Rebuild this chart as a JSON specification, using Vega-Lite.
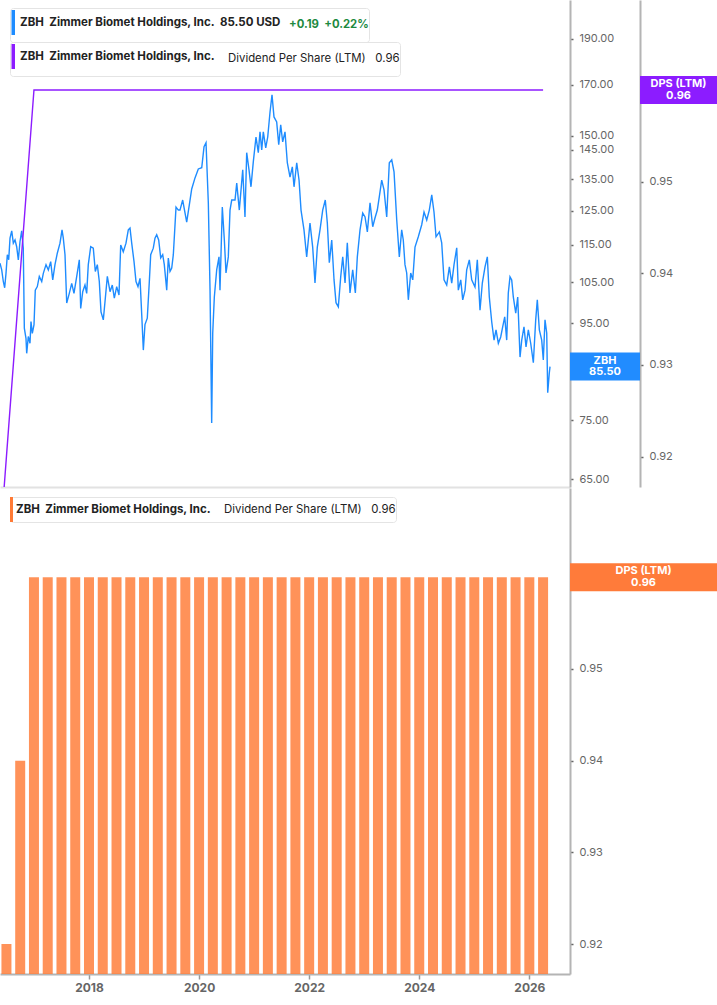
{
  "$schema": "https://vega.github.io/schema/vega-lite/v6.json",
  "background": "white",
  "padding": 0,
  "spacing": 1,
  "config": {
    "view": {"stroke": null},
    "font": "Inter",
    "axis": {"grid": false, "labelFont": "Inter", "titleFont": "Inter"},
    "legend": {
      "orient": "none",
      "padding": 0,
      "fillColor": "#ffffff",
      "strokeColor": "#e4e4e4",
      "cornerRadius": 3,
      "labelFont": "Inter",
      "labelFontSize": 11.5,
      "labelFontWeight": "bold",
      "labelColor": "#222222",
      "labelLimit": 0,
      "labelOffset": -19,
      "symbolSize": 625,
      "titleOrient": "right",
      "titleFont": "Inter",
      "titleFontSize": 11.4,
      "titlePadding": 8,
      "titleLimit": 0,
      "titleAnchor": "middle",
      "titleBaseline": "middle"
    }
  },
  "datasets": {
    "price": [
      {"t": 2016.383, "close": 110.0}, {"t": 2016.414, "close": 108.2}, {"t": 2016.443, "close": 105.2},
      {"t": 2016.468, "close": 103.6}, {"t": 2016.492, "close": 107.3}, {"t": 2016.516, "close": 112.3},
      {"t": 2016.541, "close": 110.9}, {"t": 2016.565, "close": 116.9}, {"t": 2016.596, "close": 119.0},
      {"t": 2016.625, "close": 115.5}, {"t": 2016.656, "close": 116.4}, {"t": 2016.686, "close": 114.5},
      {"t": 2016.716, "close": 110.9}, {"t": 2016.746, "close": 115.9}, {"t": 2016.777, "close": 119.0},
      {"t": 2016.806, "close": 114.1}, {"t": 2016.825, "close": 93.9}, {"t": 2016.855, "close": 91.6},
      {"t": 2016.868, "close": 88.3}, {"t": 2016.897, "close": 92.0}, {"t": 2016.928, "close": 90.5},
      {"t": 2016.946, "close": 95.4}, {"t": 2016.97, "close": 92.7}, {"t": 2017.001, "close": 94.7},
      {"t": 2017.024, "close": 103.0}, {"t": 2017.061, "close": 103.9}, {"t": 2017.097, "close": 106.5},
      {"t": 2017.141, "close": 105.2}, {"t": 2017.17, "close": 107.3}, {"t": 2017.219, "close": 109.6},
      {"t": 2017.261, "close": 108.2}, {"t": 2017.304, "close": 110.4}, {"t": 2017.341, "close": 105.6},
      {"t": 2017.382, "close": 109.6}, {"t": 2017.424, "close": 112.7}, {"t": 2017.473, "close": 115.5},
      {"t": 2017.51, "close": 119.3}, {"t": 2017.533, "close": 116.9}, {"t": 2017.564, "close": 112.3},
      {"t": 2017.595, "close": 99.8}, {"t": 2017.642, "close": 102.2}, {"t": 2017.686, "close": 104.7},
      {"t": 2017.727, "close": 102.2}, {"t": 2017.777, "close": 106.5}, {"t": 2017.824, "close": 110.9},
      {"t": 2017.849, "close": 98.5}, {"t": 2017.886, "close": 102.6}, {"t": 2017.927, "close": 104.3},
      {"t": 2017.958, "close": 102.2}, {"t": 2017.987, "close": 109.6}, {"t": 2018.031, "close": 114.5},
      {"t": 2018.078, "close": 114.1}, {"t": 2018.115, "close": 107.8}, {"t": 2018.151, "close": 109.6},
      {"t": 2018.187, "close": 105.2}, {"t": 2018.218, "close": 97.7}, {"t": 2018.26, "close": 95.8},
      {"t": 2018.291, "close": 100.2}, {"t": 2018.333, "close": 106.5}, {"t": 2018.382, "close": 102.6},
      {"t": 2018.423, "close": 104.3}, {"t": 2018.46, "close": 101.0}, {"t": 2018.503, "close": 103.9},
      {"t": 2018.545, "close": 101.8}, {"t": 2018.576, "close": 115.0}, {"t": 2018.623, "close": 113.1},
      {"t": 2018.672, "close": 115.5}, {"t": 2018.714, "close": 119.3}, {"t": 2018.745, "close": 119.8},
      {"t": 2018.776, "close": 115.5}, {"t": 2018.818, "close": 110.4}, {"t": 2018.854, "close": 105.2},
      {"t": 2018.89, "close": 103.9}, {"t": 2018.927, "close": 106.0}, {"t": 2018.958, "close": 97.0},
      {"t": 2018.987, "close": 89.0}, {"t": 2019.017, "close": 94.7}, {"t": 2019.059, "close": 96.2},
      {"t": 2019.096, "close": 105.2}, {"t": 2019.121, "close": 112.3}, {"t": 2019.168, "close": 114.1},
      {"t": 2019.199, "close": 116.9}, {"t": 2019.23, "close": 117.9}, {"t": 2019.266, "close": 116.4},
      {"t": 2019.303, "close": 111.4}, {"t": 2019.339, "close": 112.3}, {"t": 2019.368, "close": 109.6},
      {"t": 2019.412, "close": 103.0}, {"t": 2019.441, "close": 111.4}, {"t": 2019.472, "close": 107.8},
      {"t": 2019.503, "close": 108.7}, {"t": 2019.532, "close": 112.3}, {"t": 2019.581, "close": 126.1},
      {"t": 2019.623, "close": 125.2}, {"t": 2019.653, "close": 125.2}, {"t": 2019.702, "close": 128.3},
      {"t": 2019.775, "close": 121.6}, {"t": 2019.822, "close": 126.7}, {"t": 2019.866, "close": 131.8},
      {"t": 2019.926, "close": 135.4}, {"t": 2019.986, "close": 138.4}, {"t": 2020.048, "close": 138.8},
      {"t": 2020.09, "close": 146.1}, {"t": 2020.126, "close": 147.5}, {"t": 2020.168, "close": 127.4},
      {"t": 2020.199, "close": 103.0}, {"t": 2020.229, "close": 74.5}, {"t": 2020.248, "close": 92.8},
      {"t": 2020.277, "close": 101.3}, {"t": 2020.32, "close": 108.2}, {"t": 2020.362, "close": 111.7},
      {"t": 2020.38, "close": 103.0}, {"t": 2020.422, "close": 126.1}, {"t": 2020.459, "close": 116.4},
      {"t": 2020.489, "close": 107.4}, {"t": 2020.531, "close": 111.7}, {"t": 2020.562, "close": 125.2},
      {"t": 2020.593, "close": 128.3}, {"t": 2020.653, "close": 128.3}, {"t": 2020.684, "close": 133.7},
      {"t": 2020.731, "close": 125.2}, {"t": 2020.793, "close": 138.1}, {"t": 2020.834, "close": 123.1},
      {"t": 2020.865, "close": 144.0}, {"t": 2020.907, "close": 138.1}, {"t": 2020.943, "close": 132.5},
      {"t": 2020.985, "close": 140.8}, {"t": 2021.034, "close": 149.6}, {"t": 2021.076, "close": 144.0},
      {"t": 2021.107, "close": 151.5}, {"t": 2021.138, "close": 145.0}, {"t": 2021.167, "close": 151.5},
      {"t": 2021.211, "close": 145.7}, {"t": 2021.247, "close": 149.6}, {"t": 2021.289, "close": 159.0},
      {"t": 2021.325, "close": 165.8}, {"t": 2021.361, "close": 157.1}, {"t": 2021.41, "close": 155.2},
      {"t": 2021.447, "close": 146.8}, {"t": 2021.483, "close": 154.1}, {"t": 2021.519, "close": 147.8},
      {"t": 2021.561, "close": 151.5}, {"t": 2021.603, "close": 140.5}, {"t": 2021.652, "close": 135.7},
      {"t": 2021.694, "close": 139.1}, {"t": 2021.725, "close": 132.5}, {"t": 2021.774, "close": 140.5},
      {"t": 2021.816, "close": 134.7}, {"t": 2021.852, "close": 125.2}, {"t": 2021.906, "close": 119.3},
      {"t": 2021.955, "close": 111.7}, {"t": 2022.015, "close": 121.3}, {"t": 2022.064, "close": 114.4},
      {"t": 2022.106, "close": 104.8}, {"t": 2022.148, "close": 114.4}, {"t": 2022.197, "close": 119.3},
      {"t": 2022.246, "close": 125.2}, {"t": 2022.293, "close": 128.3}, {"t": 2022.33, "close": 121.3},
      {"t": 2022.366, "close": 110.1}, {"t": 2022.41, "close": 116.4}, {"t": 2022.452, "close": 105.6},
      {"t": 2022.488, "close": 99.9}, {"t": 2022.53, "close": 98.9}, {"t": 2022.573, "close": 106.4},
      {"t": 2022.61, "close": 111.7}, {"t": 2022.652, "close": 104.8}, {"t": 2022.693, "close": 115.6},
      {"t": 2022.742, "close": 102.3}, {"t": 2022.791, "close": 108.2}, {"t": 2022.839, "close": 102.3},
      {"t": 2022.875, "close": 111.7}, {"t": 2022.924, "close": 119.3}, {"t": 2022.973, "close": 124.3},
      {"t": 2023.015, "close": 123.1}, {"t": 2023.057, "close": 118.7}, {"t": 2023.106, "close": 127.4},
      {"t": 2023.155, "close": 120.2}, {"t": 2023.196, "close": 122.8}, {"t": 2023.238, "close": 125.2},
      {"t": 2023.274, "close": 129.3}, {"t": 2023.318, "close": 134.7}, {"t": 2023.36, "close": 131.5},
      {"t": 2023.409, "close": 123.1}, {"t": 2023.456, "close": 140.5}, {"t": 2023.5, "close": 141.5},
      {"t": 2023.542, "close": 137.4}, {"t": 2023.591, "close": 122.2}, {"t": 2023.638, "close": 111.7},
      {"t": 2023.681, "close": 119.3}, {"t": 2023.71, "close": 116.4}, {"t": 2023.741, "close": 109.6},
      {"t": 2023.772, "close": 107.4}, {"t": 2023.802, "close": 100.6}, {"t": 2023.845, "close": 107.4},
      {"t": 2023.882, "close": 105.6}, {"t": 2023.923, "close": 114.4}, {"t": 2023.983, "close": 117.3},
      {"t": 2024.045, "close": 120.8}, {"t": 2024.087, "close": 124.6}, {"t": 2024.136, "close": 122.2},
      {"t": 2024.183, "close": 125.2}, {"t": 2024.227, "close": 129.9}, {"t": 2024.268, "close": 124.6},
      {"t": 2024.305, "close": 117.3}, {"t": 2024.365, "close": 118.7}, {"t": 2024.408, "close": 115.6},
      {"t": 2024.45, "close": 105.6}, {"t": 2024.499, "close": 104.3}, {"t": 2024.547, "close": 109.0},
      {"t": 2024.59, "close": 104.8}, {"t": 2024.632, "close": 109.6}, {"t": 2024.681, "close": 114.2},
      {"t": 2024.71, "close": 103.0}, {"t": 2024.754, "close": 105.6}, {"t": 2024.79, "close": 100.6},
      {"t": 2024.832, "close": 103.0}, {"t": 2024.862, "close": 108.2}, {"t": 2024.91, "close": 110.9},
      {"t": 2024.953, "close": 105.6}, {"t": 2025.013, "close": 103.8}, {"t": 2025.055, "close": 110.9},
      {"t": 2025.104, "close": 98.1}, {"t": 2025.146, "close": 104.8}, {"t": 2025.195, "close": 109.0},
      {"t": 2025.237, "close": 111.7}, {"t": 2025.273, "close": 101.3}, {"t": 2025.317, "close": 95.3},
      {"t": 2025.359, "close": 91.2}, {"t": 2025.395, "close": 93.5}, {"t": 2025.437, "close": 90.5},
      {"t": 2025.48, "close": 91.9}, {"t": 2025.516, "close": 94.2}, {"t": 2025.553, "close": 96.5},
      {"t": 2025.589, "close": 91.2}, {"t": 2025.618, "close": 102.3}, {"t": 2025.649, "close": 106.4},
      {"t": 2025.68, "close": 105.6}, {"t": 2025.709, "close": 101.3}, {"t": 2025.753, "close": 97.4},
      {"t": 2025.789, "close": 101.3}, {"t": 2025.831, "close": 87.5}, {"t": 2025.862, "close": 91.2},
      {"t": 2025.903, "close": 94.2}, {"t": 2025.94, "close": 89.7}, {"t": 2025.982, "close": 93.5},
      {"t": 2026.025, "close": 90.5}, {"t": 2026.073, "close": 86.3}, {"t": 2026.116, "close": 95.8},
      {"t": 2026.145, "close": 100.6}, {"t": 2026.182, "close": 93.5}, {"t": 2026.225, "close": 91.2},
      {"t": 2026.254, "close": 86.9}, {"t": 2026.285, "close": 95.8}, {"t": 2026.316, "close": 92.8},
      {"t": 2026.334, "close": 80.2}, {"t": 2026.363, "close": 84.2}, {"t": 2026.376, "close": 85.5}
    ],
    "dps": [
      {"t": 2016.25, "dps": 0.90}, {"t": 2016.5, "dps": 0.92}, {"t": 2016.75, "dps": 0.94},
      {"t": 2017.0, "dps": 0.96}, {"t": 2017.25, "dps": 0.96}, {"t": 2017.5, "dps": 0.96}, {"t": 2017.75, "dps": 0.96},
      {"t": 2018.0, "dps": 0.96}, {"t": 2018.25, "dps": 0.96}, {"t": 2018.5, "dps": 0.96}, {"t": 2018.75, "dps": 0.96},
      {"t": 2019.0, "dps": 0.96}, {"t": 2019.25, "dps": 0.96}, {"t": 2019.5, "dps": 0.96}, {"t": 2019.75, "dps": 0.96},
      {"t": 2020.0, "dps": 0.96}, {"t": 2020.25, "dps": 0.96}, {"t": 2020.5, "dps": 0.96}, {"t": 2020.75, "dps": 0.96},
      {"t": 2021.0, "dps": 0.96}, {"t": 2021.25, "dps": 0.96}, {"t": 2021.5, "dps": 0.96}, {"t": 2021.75, "dps": 0.96},
      {"t": 2022.0, "dps": 0.96}, {"t": 2022.25, "dps": 0.96}, {"t": 2022.5, "dps": 0.96}, {"t": 2022.75, "dps": 0.96},
      {"t": 2023.0, "dps": 0.96}, {"t": 2023.25, "dps": 0.96}, {"t": 2023.5, "dps": 0.96}, {"t": 2023.75, "dps": 0.96},
      {"t": 2024.0, "dps": 0.96}, {"t": 2024.25, "dps": 0.96}, {"t": 2024.5, "dps": 0.96}, {"t": 2024.75, "dps": 0.96},
      {"t": 2025.0, "dps": 0.96}, {"t": 2025.25, "dps": 0.96}, {"t": 2025.5, "dps": 0.96}, {"t": 2025.75, "dps": 0.96},
      {"t": 2026.0, "dps": 0.96}, {"t": 2026.25, "dps": 0.96}
    ],
    "last_price": [{"close": 85.5}],
    "last_dps": [{"dps": 0.96}]
  },
  "vconcat": [
    {
      "width": 570,
      "height": 487,
      "layer": [
        {
          "layer": [
            {
              "data": {"name": "price"},
              "mark": {"type": "line", "strokeWidth": 1.4, "clip": true},
              "encoding": {
                "x": {"field": "t", "type": "quantitative", "scale": {"domain": [2016.383, 2026.739], "nice": false, "zero": false, "padding": 0},
                      "axis": {"orient": "bottom", "labels": false, "ticks": false, "title": null, "domainColor": "#e2e2e2", "domainWidth": 2}},
                "y": {"field": "close", "type": "quantitative", "scale": {"type": "log", "domain": [63.75, 208.9], "nice": false, "padding": 0},
                      "axis": {"orient": "right", "values": [65, 75, 85, 95, 105, 115, 125, 135, 145, 150, 170, 190], "format": ".2f", "title": null,
                               "domainColor": "#b4b4b4", "domainWidth": 2, "tickColor": "#666666", "tickSize": 3, "tickWidth": 1.5,
                               "labelColor": "#666666", "labelFontSize": 11, "labelPadding": 6, "labelOverlap": false}},
                "color": {"datum": "ZBH\u00a0\u00a0Zimmer Biomet Holdings, Inc.\u00a0\u00a085.50 USD", "type": "nominal",
                          "scale": {"range": ["#1e8cff"]},
                          "legend": {"title": "+0.19\u00a0\u00a0+0.22%\u00a0\u00a0", "titleColor": "#1d8a3f", "titleFontWeight": "bold", "titleFontSize": 11.3,
                                     "legendX": 10, "legendY": 8, "symbolType": "M-0.9,-1L-0.9,1", "symbolStrokeWidth": 3.5}}
              }
            },
            {
              "data": {"name": "last_price"},
              "mark": {"type": "bar", "orient": "horizontal", "height": 28, "color": "#218cff"},
              "encoding": {
                "x": {"datum": 2026.739, "type": "quantitative", "scale": {"domain": [2016.383, 2026.739], "nice": false, "zero": false, "padding": 0},
                      "axis": {"orient": "bottom", "labels": false, "ticks": false, "title": null, "domainColor": "#e2e2e2", "domainWidth": 2}},
                "x2": {"datum": 2028.011},
                "y": {"field": "close", "type": "quantitative", "scale": {"type": "log", "domain": [63.75, 208.9], "nice": false, "padding": 0}}
              }
            },
            {
              "data": {"name": "last_price"},
              "mark": {"type": "text", "color": "white", "font": "Inter", "fontWeight": "bold", "fontSize": 11, "lineHeight": 11.5, "align": "center", "baseline": "middle", "dy": -6},
              "encoding": {
                "x": {"datum": 2027.375, "type": "quantitative", "scale": {"domain": [2016.383, 2026.739], "nice": false, "zero": false, "padding": 0},
                      "axis": {"orient": "bottom", "labels": false, "ticks": false, "title": null, "domainColor": "#e2e2e2", "domainWidth": 2}},
                "y": {"field": "close", "type": "quantitative", "scale": {"type": "log", "domain": [63.75, 208.9], "nice": false, "padding": 0}},
                "text": {"value": ["ZBH", "85.50"]}
              }
            }
          ]
        },
        {
          "layer": [
            {
              "data": {"name": "dps"},
              "mark": {"type": "line", "strokeWidth": 1.4, "clip": true},
              "encoding": {
                "x": {"field": "t", "type": "quantitative", "scale": {"domain": [2016.383, 2026.739], "nice": false, "zero": false, "padding": 0},
                      "axis": {"orient": "bottom", "labels": false, "ticks": false, "title": null, "domainColor": "#e2e2e2", "domainWidth": 2}},
                "y": {"field": "dps", "type": "quantitative", "scale": {"domain": [0.91669, 0.96982], "nice": false, "zero": false, "padding": 0},
                      "axis": {"orient": "right", "offset": 70, "values": [0.92, 0.93, 0.94, 0.95, 0.96], "format": ".2f", "title": null,
                               "domainColor": "#b4b4b4", "domainWidth": 2, "tickColor": "#666666", "tickSize": 3, "tickWidth": 1.5,
                               "labelColor": "#666666", "labelFontSize": 11, "labelPadding": 6, "labelOverlap": false}},
                "color": {"datum": "ZBH\u00a0\u00a0Zimmer Biomet Holdings, Inc.", "type": "nominal",
                          "scale": {"range": ["#8c1cff"]},
                          "legend": {"title": "Dividend Per Share (LTM)\u00a0\u00a0\u00a00.96\u00a0\u00a0", "titleColor": "#222222", "titleFontWeight": "normal",
                                     "titlePadding": 13, "legendX": 10, "legendY": 42, "symbolType": "M-0.9,-1L-0.9,1", "symbolStrokeWidth": 3.5}}
              }
            },
            {
              "data": {"name": "last_dps"},
              "mark": {"type": "bar", "orient": "horizontal", "height": 28, "color": "#8c1cff"},
              "encoding": {
                "x": {"datum": 2028.011, "type": "quantitative", "scale": {"domain": [2016.383, 2026.739], "nice": false, "zero": false, "padding": 0},
                      "axis": {"orient": "bottom", "labels": false, "ticks": false, "title": null, "domainColor": "#e2e2e2", "domainWidth": 2}},
                "x2": {"datum": 2029.41},
                "y": {"field": "dps", "type": "quantitative", "scale": {"domain": [0.91669, 0.96982], "nice": false, "zero": false, "padding": 0}}
              }
            },
            {
              "data": {"name": "last_dps"},
              "mark": {"type": "text", "color": "white", "font": "Inter", "fontWeight": "bold", "fontSize": 11, "lineHeight": 11.5, "align": "center", "baseline": "middle", "dy": -6},
              "encoding": {
                "x": {"datum": 2028.71, "type": "quantitative", "scale": {"domain": [2016.383, 2026.739], "nice": false, "zero": false, "padding": 0},
                      "axis": {"orient": "bottom", "labels": false, "ticks": false, "title": null, "domainColor": "#e2e2e2", "domainWidth": 2}},
                "y": {"field": "dps", "type": "quantitative", "scale": {"domain": [0.91669, 0.96982], "nice": false, "zero": false, "padding": 0}},
                "text": {"value": ["DPS (LTM)", "0.96"]}
              }
            }
          ]
        }
      ],
      "resolve": {"scale": {"y": "independent", "color": "independent"}, "axis": {"y": "independent"}, "legend": {"color": "independent"}}
    },
    {
      "width": 570,
      "height": 486,
      "layer": [
        {
          "data": {"name": "dps"},
          "mark": {"type": "bar", "width": 10, "clip": true, "opacity": 0.82},
          "encoding": {
            "x": {"field": "t", "type": "quantitative", "scale": {"domain": [2016.383, 2026.739], "nice": false, "zero": false, "padding": 0},
                  "axis": {"orient": "bottom", "values": [2018, 2020, 2022, 2024, 2026], "format": "d", "title": null,
                           "labelFontWeight": "bold", "labelFontSize": 12, "labelColor": "#666666", "tickSize": 5, "tickColor": "#999999",
                           "tickWidth": 1.5, "domainColor": "#b4b4b4", "domainWidth": 2, "labelPadding": 3, "labelFlush": false}},
            "y": {"field": "dps", "type": "quantitative", "scale": {"domain": [0.91673, 0.96974], "nice": false, "zero": false, "padding": 0},
                  "axis": {"orient": "right", "values": [0.92, 0.93, 0.94, 0.95, 0.96], "format": ".2f", "title": null,
                           "domainColor": "#b4b4b4", "domainWidth": 2, "tickColor": "#666666", "tickSize": 3, "tickWidth": 1.5,
                           "labelColor": "#666666", "labelFontSize": 11, "labelPadding": 6, "labelOverlap": false}},
            "color": {"datum": "ZBH\u00a0\u00a0Zimmer Biomet Holdings, Inc.", "type": "nominal",
                      "scale": {"range": ["#ff7a35"]},
                      "legend": {"title": "Dividend Per Share (LTM)\u00a0\u00a0\u00a00.96\u00a0\u00a0", "titleColor": "#222222", "titleFontWeight": "normal",
                                 "titlePadding": 13, "legendX": 10, "legendY": 497, "symbolType": "M-1,-1L-0.76,-1L-0.76,1L-1,1Z", "symbolStrokeWidth": 0, "symbolOpacity": 1}}
          }
        },
        {
          "data": {"name": "last_dps"},
          "mark": {"type": "bar", "orient": "horizontal", "height": 28, "color": "#ff7b3a"},
          "encoding": {
            "x": {"datum": 2026.739, "type": "quantitative", "scale": {"domain": [2016.383, 2026.739], "nice": false, "zero": false, "padding": 0},
                  "axis": {"orient": "bottom", "values": [2018, 2020, 2022, 2024, 2026], "format": "d", "title": null,
                           "labelFontWeight": "bold", "labelFontSize": 12, "labelColor": "#666666", "tickSize": 5, "tickColor": "#999999",
                           "tickWidth": 1.5, "domainColor": "#b4b4b4", "domainWidth": 2, "labelPadding": 3, "labelFlush": false}},
            "x2": {"datum": 2029.41},
            "y": {"field": "dps", "type": "quantitative", "scale": {"domain": [0.91673, 0.96974], "nice": false, "zero": false, "padding": 0}}
          }
        },
        {
          "data": {"name": "last_dps"},
          "mark": {"type": "text", "color": "white", "font": "Inter", "fontWeight": "bold", "fontSize": 11, "lineHeight": 11.5, "align": "center", "baseline": "middle", "dy": -6},
          "encoding": {
            "x": {"datum": 2028.075, "type": "quantitative", "scale": {"domain": [2016.383, 2026.739], "nice": false, "zero": false, "padding": 0},
                  "axis": {"orient": "bottom", "values": [2018, 2020, 2022, 2024, 2026], "format": "d", "title": null,
                           "labelFontWeight": "bold", "labelFontSize": 12, "labelColor": "#666666", "tickSize": 5, "tickColor": "#999999",
                           "tickWidth": 1.5, "domainColor": "#b4b4b4", "domainWidth": 2, "labelPadding": 3, "labelFlush": false}},
            "y": {"field": "dps", "type": "quantitative", "scale": {"domain": [0.91673, 0.96974], "nice": false, "zero": false, "padding": 0}},
            "text": {"value": ["DPS (LTM)", "0.96"]}
          }
        }
      ]
    }
  ]
}
